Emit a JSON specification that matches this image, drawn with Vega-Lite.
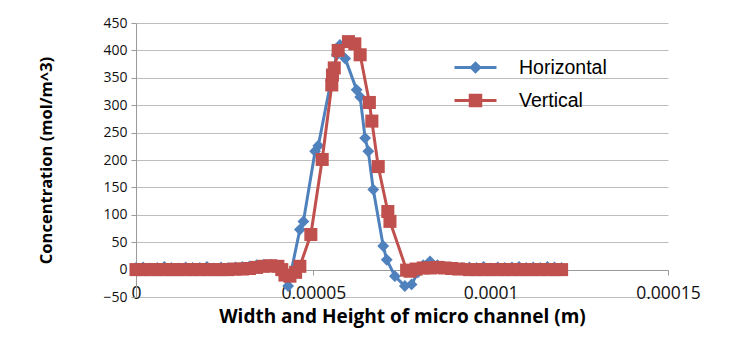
{
  "$schema": "https://vega.github.io/schema/vega-lite/v6.json",
  "width": 532,
  "height": 274,
  "autosize": {"type": "none"},
  "padding": {"left": 136, "top": 23, "right": 66, "bottom": 65},
  "background": "white",
  "config": {
    "view": {"stroke": null},
    "font": "Open Sans"
  },
  "datasets": {
    "rows": [
      {"x": 0, "c": 3, "s": "Horizontal"},
      {"x": 2e-6, "c": 4, "s": "Horizontal"},
      {"x": 4e-6, "c": 2, "s": "Horizontal"},
      {"x": 6e-6, "c": 3, "s": "Horizontal"},
      {"x": 8e-6, "c": 5, "s": "Horizontal"},
      {"x": 1.0e-5, "c": 3, "s": "Horizontal"},
      {"x": 1.2e-5, "c": 2, "s": "Horizontal"},
      {"x": 1.4e-5, "c": 4, "s": "Horizontal"},
      {"x": 1.6e-5, "c": 3, "s": "Horizontal"},
      {"x": 1.8e-5, "c": 3, "s": "Horizontal"},
      {"x": 2.0e-5, "c": 5, "s": "Horizontal"},
      {"x": 2.2e-5, "c": 2, "s": "Horizontal"},
      {"x": 2.4e-5, "c": 4, "s": "Horizontal"},
      {"x": 2.6e-5, "c": 3, "s": "Horizontal"},
      {"x": 2.8e-5, "c": 4, "s": "Horizontal"},
      {"x": 3.0e-5, "c": 5, "s": "Horizontal"},
      {"x": 3.2e-5, "c": 6, "s": "Horizontal"},
      {"x": 3.4e-5, "c": 8, "s": "Horizontal"},
      {"x": 3.6e-5, "c": 9, "s": "Horizontal"},
      {"x": 3.8e-5, "c": 9, "s": "Horizontal"},
      {"x": 4.0e-5, "c": 6, "s": "Horizontal"},
      {"x": 4.15e-5, "c": -10, "s": "Horizontal"},
      {"x": 4.29e-5, "c": -30, "s": "Horizontal"},
      {"x": 4.62e-5, "c": 73, "s": "Horizontal"},
      {"x": 4.72e-5, "c": 88, "s": "Horizontal"},
      {"x": 5.05e-5, "c": 216, "s": "Horizontal"},
      {"x": 5.14e-5, "c": 226, "s": "Horizontal"},
      {"x": 5.5e-5, "c": 345, "s": "Horizontal"},
      {"x": 5.66e-5, "c": 392, "s": "Horizontal"},
      {"x": 5.75e-5, "c": 410, "s": "Horizontal"},
      {"x": 5.9e-5, "c": 385, "s": "Horizontal"},
      {"x": 6.22e-5, "c": 328, "s": "Horizontal"},
      {"x": 6.32e-5, "c": 315, "s": "Horizontal"},
      {"x": 6.46e-5, "c": 240, "s": "Horizontal"},
      {"x": 6.55e-5, "c": 216, "s": "Horizontal"},
      {"x": 6.69e-5, "c": 146, "s": "Horizontal"},
      {"x": 6.97e-5, "c": 43, "s": "Horizontal"},
      {"x": 7.07e-5, "c": 18, "s": "Horizontal"},
      {"x": 7.30e-5, "c": -12, "s": "Horizontal"},
      {"x": 7.58e-5, "c": -30, "s": "Horizontal"},
      {"x": 7.77e-5, "c": -27, "s": "Horizontal"},
      {"x": 7.95e-5, "c": -5, "s": "Horizontal"},
      {"x": 8.1e-5, "c": 8, "s": "Horizontal"},
      {"x": 8.29e-5, "c": 15, "s": "Horizontal"},
      {"x": 8.5e-5, "c": 8, "s": "Horizontal"},
      {"x": 8.7e-5, "c": 5, "s": "Horizontal"},
      {"x": 8.9e-5, "c": 4, "s": "Horizontal"},
      {"x": 9.2e-5, "c": 3, "s": "Horizontal"},
      {"x": 9.4e-5, "c": 4, "s": "Horizontal"},
      {"x": 9.6e-5, "c": 3, "s": "Horizontal"},
      {"x": 9.8e-5, "c": 5, "s": "Horizontal"},
      {"x": 1.0e-4, "c": 2, "s": "Horizontal"},
      {"x": 1.02e-4, "c": 4, "s": "Horizontal"},
      {"x": 1.04e-4, "c": 3, "s": "Horizontal"},
      {"x": 1.06e-4, "c": 4, "s": "Horizontal"},
      {"x": 1.08e-4, "c": 5, "s": "Horizontal"},
      {"x": 1.10e-4, "c": 3, "s": "Horizontal"},
      {"x": 1.12e-4, "c": 4, "s": "Horizontal"},
      {"x": 1.14e-4, "c": 3, "s": "Horizontal"},
      {"x": 1.16e-4, "c": 5, "s": "Horizontal"},
      {"x": 1.18e-4, "c": 4, "s": "Horizontal"},
      {"x": 1.20e-4, "c": 3, "s": "Horizontal"},

      {"x": 0, "c": 0, "s": "Vertical"},
      {"x": 2e-6, "c": 0, "s": "Vertical"},
      {"x": 4e-6, "c": 0, "s": "Vertical"},
      {"x": 6e-6, "c": 0, "s": "Vertical"},
      {"x": 8e-6, "c": 0, "s": "Vertical"},
      {"x": 1.0e-5, "c": 0, "s": "Vertical"},
      {"x": 1.2e-5, "c": 0, "s": "Vertical"},
      {"x": 1.4e-5, "c": 0, "s": "Vertical"},
      {"x": 1.6e-5, "c": 0, "s": "Vertical"},
      {"x": 1.8e-5, "c": 0, "s": "Vertical"},
      {"x": 2.0e-5, "c": 0, "s": "Vertical"},
      {"x": 2.2e-5, "c": 0, "s": "Vertical"},
      {"x": 2.4e-5, "c": 0, "s": "Vertical"},
      {"x": 2.6e-5, "c": 0, "s": "Vertical"},
      {"x": 2.8e-5, "c": 1, "s": "Vertical"},
      {"x": 3.0e-5, "c": 1, "s": "Vertical"},
      {"x": 3.2e-5, "c": 2, "s": "Vertical"},
      {"x": 3.4e-5, "c": 4, "s": "Vertical"},
      {"x": 3.6e-5, "c": 6, "s": "Vertical"},
      {"x": 3.8e-5, "c": 7, "s": "Vertical"},
      {"x": 4.0e-5, "c": 6, "s": "Vertical"},
      {"x": 4.11e-5, "c": 0, "s": "Vertical"},
      {"x": 4.2e-5, "c": -10, "s": "Vertical"},
      {"x": 4.34e-5, "c": -12, "s": "Vertical"},
      {"x": 4.5e-5, "c": -5, "s": "Vertical"},
      {"x": 4.62e-5, "c": 6, "s": "Vertical"},
      {"x": 4.93e-5, "c": 64, "s": "Vertical"},
      {"x": 5.25e-5, "c": 201, "s": "Vertical"},
      {"x": 5.52e-5, "c": 337, "s": "Vertical"},
      {"x": 5.54e-5, "c": 355, "s": "Vertical"},
      {"x": 5.59e-5, "c": 368, "s": "Vertical"},
      {"x": 5.70e-5, "c": 400, "s": "Vertical"},
      {"x": 5.99e-5, "c": 416, "s": "Vertical"},
      {"x": 6.17e-5, "c": 412, "s": "Vertical"},
      {"x": 6.32e-5, "c": 392, "s": "Vertical"},
      {"x": 6.58e-5, "c": 305, "s": "Vertical"},
      {"x": 6.65e-5, "c": 271, "s": "Vertical"},
      {"x": 6.83e-5, "c": 188, "s": "Vertical"},
      {"x": 7.10e-5, "c": 106, "s": "Vertical"},
      {"x": 7.16e-5, "c": 88, "s": "Vertical"},
      {"x": 7.63e-5, "c": -1, "s": "Vertical"},
      {"x": 7.73e-5, "c": -3, "s": "Vertical"},
      {"x": 7.9e-5, "c": 1, "s": "Vertical"},
      {"x": 8.1e-5, "c": 3, "s": "Vertical"},
      {"x": 8.3e-5, "c": 3, "s": "Vertical"},
      {"x": 8.5e-5, "c": 4, "s": "Vertical"},
      {"x": 8.7e-5, "c": 3, "s": "Vertical"},
      {"x": 8.9e-5, "c": 2, "s": "Vertical"},
      {"x": 9.1e-5, "c": 1, "s": "Vertical"},
      {"x": 9.4e-5, "c": 0, "s": "Vertical"},
      {"x": 9.6e-5, "c": 0, "s": "Vertical"},
      {"x": 9.8e-5, "c": 0, "s": "Vertical"},
      {"x": 1.0e-4, "c": 0, "s": "Vertical"},
      {"x": 1.02e-4, "c": 0, "s": "Vertical"},
      {"x": 1.04e-4, "c": 0, "s": "Vertical"},
      {"x": 1.06e-4, "c": 0, "s": "Vertical"},
      {"x": 1.08e-4, "c": 0, "s": "Vertical"},
      {"x": 1.10e-4, "c": 0, "s": "Vertical"},
      {"x": 1.12e-4, "c": 0, "s": "Vertical"},
      {"x": 1.14e-4, "c": 0, "s": "Vertical"},
      {"x": 1.16e-4, "c": 0, "s": "Vertical"},
      {"x": 1.18e-4, "c": 0, "s": "Vertical"},
      {"x": 1.20e-4, "c": 0, "s": "Vertical"}
    ]
  },
  "data": {"name": "rows"},
  "encoding": {
    "x": {
      "field": "x",
      "type": "quantitative",
      "scale": {"domain": [0, 0.00015], "nice": false, "zero": false},
      "axis": {
        "title": "Width and Height of micro channel (m)",
        "values": [0, 0.00005, 0.0001, 0.00015],
        "labelExpr": "datum.value === 0 ? '0' : format(datum.value, '.5~f')",
        "offset": -27,
        "grid": false,
        "domainColor": "#9a9a9a",
        "tickColor": "#9a9a9a",
        "tickSize": 5,
        "labelFont": "Open Sans",
        "labelFontSize": 17.5,
        "labelColor": "#111111",
        "labelPadding": 9,
        "labelFlush": false,
        "titleFont": "Open Sans",
        "titleFontWeight": "bold",
        "titleFontSize": 19,
        "titleColor": "#000000",
        "titlePadding": 6
      }
    },
    "y": {
      "field": "c",
      "type": "quantitative",
      "scale": {"domain": [-50, 450], "nice": false},
      "axis": {
        "title": "Concentration (mol/m^3)",
        "values": [-50, 0, 50, 100, 150, 200, 250, 300, 350, 400, 450],
        "grid": true,
        "gridColor": "#bdbdbd",
        "gridWidth": 1,
        "domainColor": "#9a9a9a",
        "tickColor": "#9a9a9a",
        "tickSize": 5,
        "labelFont": "Open Sans",
        "labelFontSize": 14,
        "labelColor": "#111111",
        "labelPadding": 4,
        "titleFont": "Open Sans",
        "titleFontWeight": "bold",
        "titleFontSize": 16.5,
        "titleColor": "#000000",
        "titlePadding": 48
      }
    },
    "color": {
      "field": "s",
      "type": "nominal",
      "scale": {"domain": ["Horizontal", "Vertical"], "range": ["#4F81BD", "#C0504D"]},
      "legend": {
        "title": null,
        "orient": "none",
        "legendX": 317,
        "legendY": 22,
        "padding": 0,
        "symbolSize": 1764,
        "symbolType": "M-1,0H1M0,-0.18L0.18,0L0,0.18L-0.18,0Z",
        "rowPadding": -6,
        "labelOffset": 21,
        "labelFont": "Liberation Sans",
        "labelFontSize": 19.5,
        "labelColor": "#000000",
        "encode": {
          "symbols": {
            "update": {
              "shape": {"signal": "datum.value === 'Horizontal' ? 'M-1,0H1M0,-0.2L0.2,0L0,0.2L-0.2,0Z' : 'M-1,0H1M-0.25,-0.25H0.25V0.25H-0.25Z'"},
              "fill": {"scale": "color", "field": "value"},
              "stroke": {"scale": "color", "field": "value"},
              "strokeWidth": {"value": 3},
              "opacity": {"value": 1},
              "fillOpacity": {"value": 1},
              "strokeOpacity": {"value": 1}
            }
          }
        }
      }
    }
  },
  "layer": [
    {
      "transform": [{"filter": "datum.s === 'Horizontal'"}],
      "mark": {"type": "line", "strokeWidth": 3}
    },
    {
      "transform": [{"filter": "datum.s === 'Horizontal'"}],
      "mark": {"type": "point", "filled": true, "size": 140, "opacity": 1, "shape": "diamond"}
    },
    {
      "transform": [{"filter": "datum.s === 'Vertical'"}],
      "mark": {"type": "line", "strokeWidth": 3}
    },
    {
      "transform": [{"filter": "datum.s === 'Vertical'"}],
      "mark": {"type": "point", "filled": true, "size": 170, "opacity": 1, "shape": "square"}
    }
  ]
}
